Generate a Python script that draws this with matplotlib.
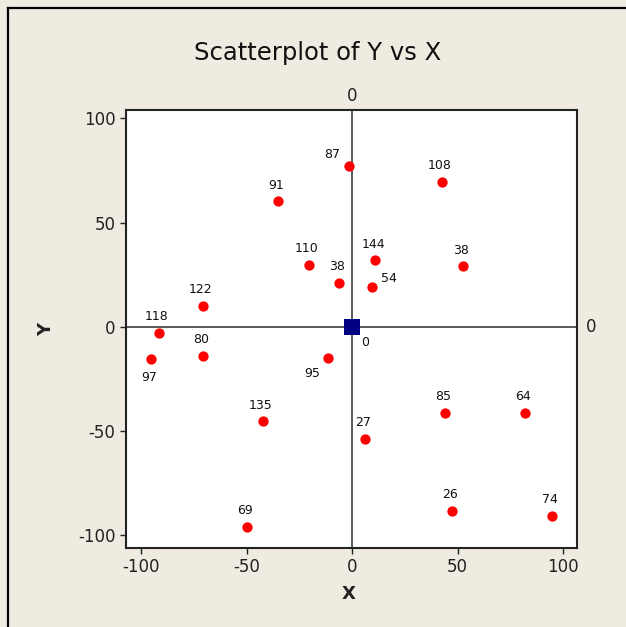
import matplotlib.pyplot as plt
from matplotlib.lines import Line2D

plt.rcParams["axes.unicode_minus"] = False

# point values
x = [-1.4, -35.2, -20.6, -6.2, -70.7, -91.5, 10.9, 9.3, 42.6, 52.5,
     -95.3, -70.7, -11.4, -42.3, 6.3, -50.0, 44.0, 81.9, 47.2, 94.8]
y = [77.2, 60.2, 29.8, 21.1, 10.1, -3.0, 32.0, 18.9, 69.6, 29.0,
     -15.7, -13.9, -14.9, -45.3, -53.7, -96.1, -41.4, -41.4, -88.4, -90.7]
labels = ["87", "91", "110", "38", "122", "118", "144", "54", "108", "38",
          "97", "80", "95", "135", "27", "69", "85", "64", "26", "74"]

center_x = [0]
center_y = [0]
center_label = ["0"]

xticks = [-100, -50, 0, 50, 100]
yticks = [-100, -50, 0, 50, 100]

bg = "#efebe1"

fig = plt.figure(figsize=(6.26, 6.27), dpi=100, facecolor=bg)
# window frame, only left and top edges visible
fx, fy = 7.5 / 626, 1 - 7.5 / 627
fig.add_artist(Line2D([fx, fx], [0, fy], transform=fig.transFigure, color="black", linewidth=1.6))
fig.add_artist(Line2D([fx, 1], [fy, fy], transform=fig.transFigure, color="black", linewidth=1.6))

ax = fig.add_axes([126 / 626, 1 - 548 / 627, 451 / 626, 438 / 627])
ax.set_facecolor("white")
ax.set_xlim(-107.1, 106.6)
ax.set_ylim(-106.2, 104.0)

# reference lines at 0
ax.axvline(0, color="#404040", linewidth=1.2, zorder=1)
ax.axhline(0, color="#404040", linewidth=1.2, zorder=1)
ax.text(0, 1.012, "0", transform=ax.get_xaxis_transform(), ha="center", va="bottom",
        fontsize=12, color="#222222")
ax.text(1.02, 0, "0", transform=ax.get_yaxis_transform(), ha="left", va="center",
        fontsize=12, color="#222222")

ax.scatter(x, y, s=55, color="#ff0000", zorder=3, linewidths=0)
ax.scatter(center_x, center_y, s=130, marker="s", color="#000080", zorder=3, linewidths=0)

# label placement in pixels (default above the point)
special = {0: (-17, 11), 7: (17, 9), 10: (-2, -18), 12: (-16, -16)}
for i, (xi, yi, lab) in enumerate(zip(x, y, labels)):
    dx, dy = special.get(i, (-2, 16))
    ax.annotate(lab, (xi, yi), xytext=(dx, dy), textcoords="offset pixels",
                ha="center", va="center", fontsize=9, color="#111111")
for xi, yi, lab in zip(center_x, center_y, center_label):
    ax.annotate(lab, (xi, yi), xytext=(13, -16), textcoords="offset pixels",
                ha="center", va="center", fontsize=9, color="#111111")

ax.set_xticks(xticks)
ax.set_yticks(yticks)
ax.tick_params(direction="out", length=4, width=1, labelsize=12, colors="#222222")
for s in ax.spines.values():
    s.set_linewidth(1.5)
    s.set_color("#222222")

ax.set_xlabel("X", fontsize=13, fontweight="bold", color="#222222")
ax.set_ylabel("Y", fontsize=13, fontweight="bold", color="#222222")
ax.xaxis.set_label_coords(0.494, -0.105)
ax.yaxis.set_label_coords(-0.176, 0.5)
ax.xaxis.label.set_va("center")
ax.yaxis.label.set_va("center")

fig.text(317.5 / 626, 1 - 60 / 627, "Scatterplot of Y vs X", ha="center", va="baseline",
         fontsize=17.5, color="#111111")

fig.savefig("out.png", dpi=100, facecolor=bg)
